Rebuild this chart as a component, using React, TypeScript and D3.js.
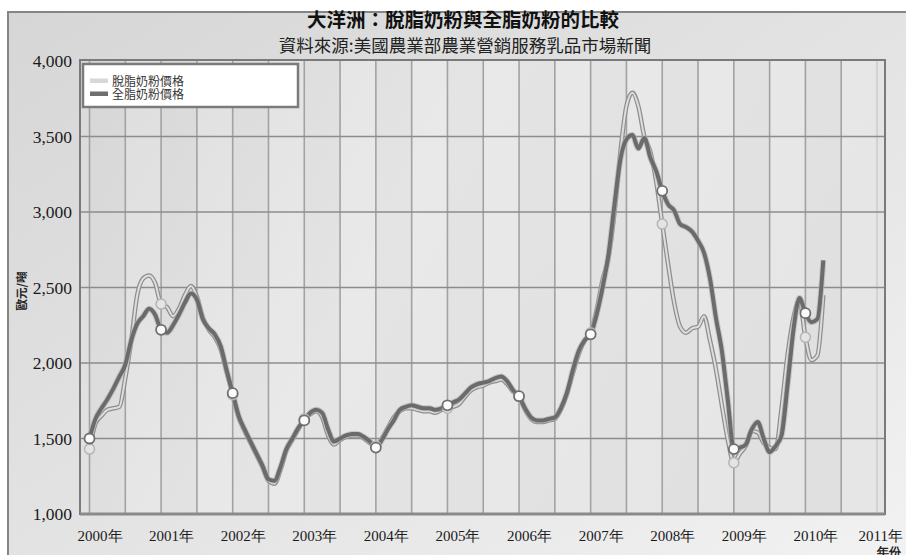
import * as d3 from 'd3';

// monthly prices, Jan 2000 .. Apr 2010 (EUR / tonne)
const skimMilk = [
  1430, 1600, 1650, 1690, 1700, 1710, 1900, 2150, 2450, 2560, 2580, 2530,
  2390, 2370, 2310, 2360, 2450, 2510, 2440, 2300, 2220, 2170, 2090, 1940,
  1790, 1640, 1550, 1470, 1390, 1310, 1220, 1200, 1290, 1420, 1490, 1560,
  1630, 1660, 1680, 1640, 1520, 1460, 1490, 1510, 1520, 1520, 1500, 1470,
  1450, 1500, 1570, 1640, 1680, 1700, 1700, 1690, 1680, 1680, 1670, 1690,
  1700, 1710, 1730, 1780, 1820, 1840, 1850, 1870, 1880, 1890, 1860, 1810,
  1780, 1690, 1630, 1610, 1610, 1620, 1630, 1690, 1790, 1930, 2060, 2150,
  2200, 2350, 2550, 2700, 3000, 3400, 3700, 3790, 3700, 3500, 3400, 3200,
  2920, 2650, 2400, 2240, 2200, 2230, 2240, 2310, 2150, 1960, 1720, 1490,
  1340, 1400, 1450, 1550, 1540, 1470, 1440, 1430, 1700, 2050, 2300, 2410,
  2170, 2020, 2050, 2450,
];

const wholeMilk = [
  1500, 1630, 1700, 1760, 1830, 1910, 1990, 2150, 2260, 2310, 2360, 2320,
  2220, 2200, 2250, 2320, 2400, 2460, 2420, 2290, 2230, 2190, 2110, 1950,
  1800, 1650, 1560, 1480, 1400, 1320, 1230, 1220, 1310, 1430, 1500, 1570,
  1620, 1670, 1690, 1670, 1560, 1480, 1500, 1520, 1530, 1530, 1510, 1480,
  1440, 1490, 1560, 1620, 1690, 1710, 1720, 1710, 1700, 1700, 1690, 1700,
  1720, 1740, 1760, 1800, 1840, 1860, 1870, 1880, 1900, 1910, 1880, 1820,
  1780, 1700, 1640, 1620, 1620, 1630, 1640, 1700, 1800, 1950, 2080, 2150,
  2190, 2320, 2500, 2720, 3050, 3350, 3480, 3510, 3420, 3490, 3360, 3270,
  3140, 3050, 3010, 2920, 2900, 2870, 2810, 2730, 2560, 2300, 2080, 1750,
  1430, 1440, 1460, 1560, 1610, 1500, 1410, 1450, 1520, 1850, 2220, 2430,
  2330, 2270, 2290, 2680,
];

const years = d3.range(2000, 2012);
const yTicks = [1000, 1500, 2000, 2500, 3000, 3500, 4000];
const legendItems = ['脫脂奶粉價格', '全脂奶粉價格'];

const title = '大洋洲：脫脂奶粉與全脂奶粉的比較';
const subtitle = '資料來源:美國農業部農業營銷服務乳品市場新聞';

const W = 906;
const H = 555;
const plot = { left: 80, top: 60, right: 885, bottom: 514 };

const serif = "'Liberation Serif', serif";
const cjk = "'Noto Sans CJK TC', 'Noto Sans CJK SC', sans-serif";

export default function App() {
  const x = d3.scaleLinear().domain([2000, 2011]).range([89.5, 877]);
  const y = d3.scaleLinear().domain([1000, 4000]).range([514, 61]);
  const t = (i: number) => 2000 + i / 12;

  const line = d3
    .line<number>()
    .x((_, i) => x(t(i)))
    .y((d) => y(d))
    .curve(d3.curveMonotoneX);

  const halfYears = d3.range(2000, 2011.01, 0.5);
  const yearIdx = (arr: number[]) =>
    d3.range(0, arr.length, 12).map((i) => ({ i, v: arr[i] }));
  const lastYear = years[years.length - 1];

  return (
    <svg
      width={W}
      height={H}
      style={{ position: 'absolute', left: 0, top: 0, display: 'block' }}
    >
      <defs>
        <linearGradient id="outerBg" x1="0" y1="0" x2="1" y2="1">
          <stop offset="0" stopColor="#d6d6d6" />
          <stop offset="0.6" stopColor="#e6e6e6" />
          <stop offset="1" stopColor="#f3f3f3" />
        </linearGradient>
        <linearGradient id="plotBg" x1="0" y1="0" x2="1" y2="0.3">
          <stop offset="0" stopColor="#dadada" />
          <stop offset="0.45" stopColor="#e8e8e8" />
          <stop offset="1" stopColor="#e4e4e4" />
        </linearGradient>
      </defs>

      <rect width={W} height={H} fill="#fff" />
      <rect
        x={8}
        y={12}
        width={W + 10}
        height={H + 10}
        fill="url(#outerBg)"
        stroke="#858585"
        strokeWidth={2}
      />

      {/* titles */}
      <text
        x={463}
        y={27}
        textAnchor="middle"
        style={{ fontFamily: cjk }}
        fontWeight={700}
        fontSize={19.5}
        fill="#111"
      >
        {title}
      </text>
      <text
        x={465}
        y={52}
        textAnchor="middle"
        style={{ fontFamily: cjk }}
        fontSize={17.5}
        fill="#222"
      >
        {subtitle}
      </text>

      {/* plot background */}
      <rect
        x={plot.left}
        y={plot.top}
        width={plot.right - plot.left}
        height={plot.bottom - plot.top}
        fill="url(#plotBg)"
      />
      {halfYears.slice(0, -1).map((h, k) => (
        <rect
          key={'band' + h}
          x={x(h)}
          y={plot.top}
          width={x(h + 0.5) - x(h)}
          height={plot.bottom - plot.top}
          fill={k % 2 === 0 ? '#000' : '#fff'}
          opacity={k % 2 === 0 ? 0.015 : 0.08}
        />
      ))}

      {/* grid */}
      {halfYears.map((h) => (
        <line
          key={'vg' + h}
          x1={x(h)}
          x2={x(h)}
          y1={plot.top}
          y2={plot.bottom}
          stroke={h === 2011 ? '#cdcdcd' : '#a2a2a2'}
          strokeWidth={1.6}
        />
      ))}
      {yTicks.slice(1, -1).map((v) => (
        <line
          key={'hg' + v}
          x1={plot.left}
          x2={plot.right}
          y1={y(v)}
          y2={y(v)}
          stroke="#8c8c8c"
          strokeWidth={1.3}
        />
      ))}

      {/* plot frame */}
      <rect
        x={plot.left}
        y={plot.top}
        width={plot.right - plot.left}
        height={plot.bottom - plot.top}
        fill="none"
        stroke="#7a7a7a"
        strokeWidth={2}
      />
      <line
        x1={plot.left}
        x2={plot.right}
        y1={plot.bottom}
        y2={plot.bottom}
        stroke="#8a8a8a"
        strokeWidth={3}
      />

      {/* y axis labels */}
      {yTicks.map((v) => (
        <text
          key={'yt' + v}
          x={72}
          y={y(v)}
          dy="0.35em"
          textAnchor="end"
          style={{ fontFamily: serif }}
          fontSize={17.5}
          fill="#1a1a1a"
        >
          {d3.format(',')(v)}
        </text>
      ))}
      <text
        transform="translate(26,291) rotate(-90)"
        textAnchor="middle"
        style={{ fontFamily: cjk }}
        fontWeight={700}
        fontSize={11.5}
        fill="#222"
      >
        歐元/噸
      </text>

      {/* x axis labels */}
      {years.map((yr) => (
        <text
          key={'xt' + yr}
          x={yr === lastYear ? 903 : x(yr) - 12}
          y={541}
          textAnchor={yr === lastYear ? 'end' : 'start'}
          style={{ fontFamily: serif }}
          fontSize={15}
          fill="#1a1a1a"
        >
          {yr}年
        </text>
      ))}
      <text
        x={901}
        y={556}
        textAnchor="end"
        style={{ fontFamily: serif }}
        fontWeight={700}
        fontSize={12}
        fill="#222"
      >
        年份
      </text>

      {/* series */}
      <path d={line(skimMilk) || ''} fill="none" stroke="#8e8e8e" strokeWidth={4.5} />
      <path d={line(skimMilk) || ''} fill="none" stroke="#dedede" strokeWidth={2} />
      <path d={line(wholeMilk) || ''} fill="none" stroke="#b0b0b0" strokeWidth={6} opacity={0.6} />
      <path d={line(wholeMilk) || ''} fill="none" stroke="#6b6b6b" strokeWidth={4} />

      {yearIdx(skimMilk).map(({ i, v }) => (
        <circle
          key={'sm' + i}
          cx={x(t(i))}
          cy={y(v)}
          r={5}
          fill="#e4e4e4"
          stroke="#b5b5b5"
          strokeWidth={1.5}
        />
      ))}
      {yearIdx(wholeMilk).map(({ i, v }) => (
        <circle
          key={'wm' + i}
          cx={x(t(i))}
          cy={y(v)}
          r={5}
          fill="#fbfbfb"
          stroke="#6f6f6f"
          strokeWidth={1.8}
        />
      ))}

      {/* legend */}
      <rect x={83} y={64} width={215} height={43} fill="#fff" stroke="#7b7b7b" strokeWidth={2.5} />
      {legendItems.map((name, k) => (
        <g key={name}>
          <rect
            x={90}
            y={78.5 + k * 13}
            width={18}
            height={4.5}
            fill={k === 0 ? '#d8d8d8' : '#6f6f6f'}
          />
          <text x={112} y={86 + k * 13} style={{ fontFamily: cjk }} fontSize={12} fill="#333">
            {name}
          </text>
        </g>
      ))}
    </svg>
  );
}
